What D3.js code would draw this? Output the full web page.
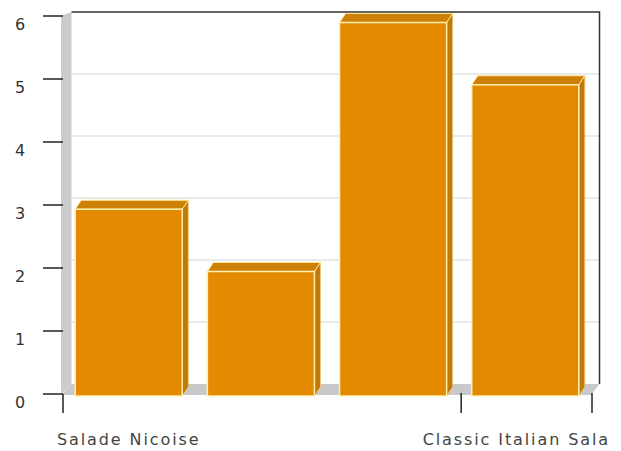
<!DOCTYPE html>
<html>
<head>
<meta charset="utf-8">
<script src="https://cdn.jsdelivr.net/npm/d3@7"></script>
<style>
  html, body { margin: 0; padding: 0; background: #fff; }
  svg { display: block; }
</style>
</head>
<body>
<svg id="chart" width="621" height="451"></svg>
<script>
// ---- data ----
const categories = ["Salade Nicoise", "Bar 2", "Bar 3", "Classic Italian Sala"];
const values = [3, 2, 6, 5];
const xTickLabels = ["Salade Nicoise", "", "", "Classic Italian Sala"];
const yTicks = [0, 1, 2, 3, 4, 5, 6];
const yDomain = [0, 6];

// ---- layout ----
const svg = d3.select("#chart");

const wallDX = 10.5;        // depth offset of the back wall
const barDX = 6, barDY = 9; // depth of bars

const x = d3.scaleBand()
  .domain(categories)
  .range([62, 592])
  .paddingInner(0.19)
  .paddingOuter(0.1);

const yAxisScale = d3.scaleLinear().domain(yDomain).range([394, 16]);
const yWall = d3.scaleLinear().domain(yDomain).range([384, 12]);
const yBar = d3.scaleLinear().domain(yDomain).range([396, 22.5]);

const axisX = 61;
const wallLeft = axisX + wallDX;
const wallRight = 599.5;
const floorFrontRight = wallRight - wallDX + 2;

// back wall
svg.append("rect")
  .attr("x", wallLeft).attr("y", yWall(6))
  .attr("width", wallRight - wallLeft).attr("height", yWall(0) - yWall(6))
  .attr("fill", "#ffffff");

// gridlines on back wall
svg.append("g").selectAll("line")
  .data(yTicks.filter(d => d > 0 && d < 6))
  .join("line")
  .attr("x1", wallLeft).attr("x2", wallRight)
  .attr("y1", d => yWall(d)).attr("y2", d => yWall(d))
  .attr("stroke", "#e3e3e3").attr("stroke-width", 1.5);

// left wall
svg.append("path")
  .attr("d", d3.line()([
    [axisX, yWall(6) + 4], [wallLeft, yWall(6)],
    [wallLeft, yWall(0)], [axisX, yAxisScale(0)]
  ]) + "Z")
  .attr("fill", "#cbcbcb");

// floor
svg.append("path")
  .attr("d", d3.line()([
    [wallLeft, yWall(0)], [wallRight, yWall(0)],
    [floorFrontRight, yAxisScale(0) + 1], [axisX, yAxisScale(0) + 1]
  ]) + "Z")
  .attr("fill", "#c9c9c9");

// wall border (top and right)
svg.append("path")
  .attr("d", d3.line()([[wallLeft, yWall(6)], [wallRight, yWall(6)], [wallRight, yWall(0)]]))
  .attr("fill", "none").attr("stroke", "#333").attr("stroke-width", 1.5);

// bars
const bars = svg.append("g").selectAll("g")
  .data(categories.map((c, i) => ({ c, v: values[i] })))
  .join("g");

bars.append("path") // side face
  .attr("d", d => {
    const x0 = x(d.c) + x.bandwidth(), yt = yBar(d.v), yb = yBar(0);
    return d3.line()([[x0, yt], [x0 + barDX, yt - barDY], [x0 + barDX, yb - barDY], [x0, yb]]) + "Z";
  })
  .attr("fill", "#bf7a0a").attr("stroke", "#f3c870").attr("stroke-width", 0.8);

bars.append("path") // top face
  .attr("d", d => {
    const x0 = x(d.c), x1 = x0 + x.bandwidth(), yt = yBar(d.v);
    return d3.line()([[x0, yt], [x0 + barDX, yt - barDY], [x1 + barDX, yt - barDY], [x1, yt]]) + "Z";
  })
  .attr("fill", "#cc8106").attr("stroke", "#ffe79a").attr("stroke-width", 1);

bars.append("rect") // front face
  .attr("x", d => x(d.c))
  .attr("y", d => yBar(d.v))
  .attr("width", x.bandwidth())
  .attr("height", d => yBar(0) - yBar(d.v))
  .attr("fill", "#e38a00")
  .attr("stroke", "#fff0b0").attr("stroke-width", 1.5);

// y axis ticks and labels
const yAxisG = svg.append("g");
yAxisG.selectAll("line")
  .data(yTicks)
  .join("line")
  .attr("x1", 43).attr("x2", axisX + 2)
  .attr("y1", d => yAxisScale(d)).attr("y2", d => yAxisScale(d))
  .attr("stroke", "#222").attr("stroke-width", 1.5);
yAxisG.selectAll("text")
  .data(yTicks)
  .join("text")
  .attr("x", 20)
  .attr("y", d => yAxisScale(d) + 8)
  .attr("dy", "0.36em")
  .attr("text-anchor", "middle")
  .attr("font-family", "DejaVu Sans, sans-serif")
  .attr("font-size", 16)
  .attr("fill", "#333")
  .text(d => d);

// x axis tick marks: at axis start, boundary between categories 3 and 4, and axis end
const xTickPositions = [
  axisX + 2,
  (x(categories[2]) + x.bandwidth() + x(categories[3])) / 2 + 2,
  floorFrontRight + 1
];
svg.append("g").selectAll("line")
  .data(xTickPositions)
  .join("line")
  .attr("x1", d => d).attr("x2", d => d)
  .attr("y1", (d, i) => i === 0 ? yAxisScale(0) : yAxisScale(0) - 1)
  .attr("y2", 413)
  .attr("stroke", "#222").attr("stroke-width", 1.5);

// x labels (kept inside the picture)
svg.append("g").selectAll("text")
  .data(categories.map((c, i) => ({ c, label: xTickLabels[i] })))
  .join("text")
  .attr("x", d => x(d.c) + x.bandwidth() / 2)
  .attr("y", 445)
  .attr("text-anchor", "middle")
  .attr("font-family", "DejaVu Sans, sans-serif")
  .attr("font-size", 16)
  .attr("letter-spacing", 1.9)
  .attr("fill", "#444")
  .text(d => d.label)
  .each(function() {
    const bb = this.getBBox();
    const overflow = bb.x + bb.width - 610;
    if (overflow > 0) d3.select(this).attr("x", +d3.select(this).attr("x") - overflow);
  });
</script>
</body>
</html>
